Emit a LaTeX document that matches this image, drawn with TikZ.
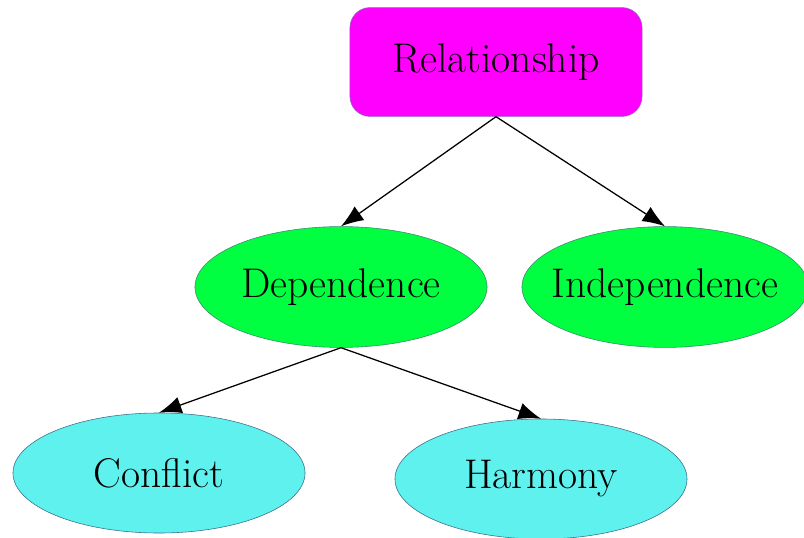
\documentclass[tikz,border=0pt]{standalone}
\usepackage{tikz}
\usepackage{xcolor}
\usetikzlibrary{shapes}
\usetikzlibrary{arrows.meta}
\definecolor{relfill}{HTML}{FF00FF}
\definecolor{reldraw}{HTML}{9060C8}
\definecolor{depfill}{HTML}{00FF40}
\definecolor{depdraw}{HTML}{3A8A6A}
\definecolor{leaffill}{HTML}{5EF1EE}
\definecolor{leafdraw}{HTML}{3A6A8A}
\tikzset{every node/.style={font=\fontsize{29.5}{34}\selectfont},
 rootbox/.style={draw=reldraw,fill=relfill,rounded corners=0.5cm,
  minimum width=7.3cm,minimum height=2.72cm},
 midell/.style={ellipse,draw=depdraw,fill=depfill,inner sep=0pt,
  minimum width=7.3cm,minimum height=3.02cm},
 leafell/.style={ellipse,draw=leafdraw,fill=leaffill,
  minimum width=7.3cm,minimum height=3cm},
 link/.style={draw,line width=0.9pt,-{Latex[length=16pt,width=12pt]}},
 }

\begin{document}
\begin{tikzpicture}[x=0.025cm,y=-0.025cm]
    \useasboundingbox (0,0) rectangle (804,538);
    \node[rootbox] (rel) at (496,62) {Relationship};
    \node[midell] (dep) at (341,287) {Dependence};
    \node[midell,minimum width=7.15cm] (ind) at (665,287) {\makebox[4.9cm]{Independence}};
    \node[leafell] (con) at (159,473) {Conflict};
    \node[leafell] (har) at (541,479) {Harmony};
    \draw[link] (rel.south) -- (dep.north);
    \draw[link] (rel.south) -- (ind.north);
    \draw[link] (dep.south) -- (con.north);
    \draw[link] (dep.south) -- (har.north);
\end{tikzpicture}
\end{document}
